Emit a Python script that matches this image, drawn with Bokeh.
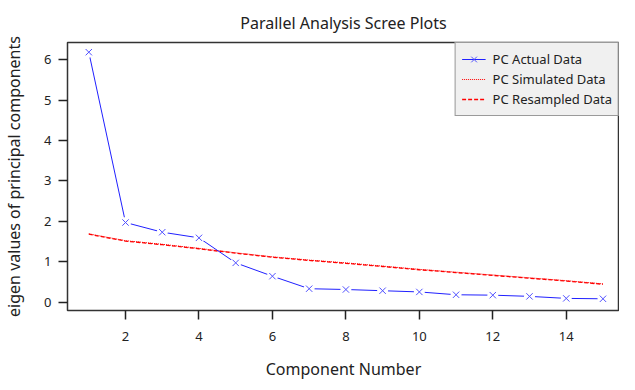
from bokeh.plotting import figure
from bokeh.models import Range1d, Legend, LegendItem, FixedTicker
from bokeh.embed import file_html
from bokeh.resources import INLINE

components = [1, 2, 3, 4, 5, 6, 7, 8, 9, 10, 11, 12, 13, 14, 15]
pc_actual = [6.19, 1.97, 1.73, 1.59, 0.97, 0.64, 0.33, 0.31, 0.28, 0.25, 0.18, 0.17, 0.14, 0.09, 0.08]
pc_simulated = [1.69, 1.52, 1.43, 1.33, 1.22, 1.12, 1.04, 0.97, 0.89, 0.81, 0.74, 0.67, 0.60, 0.53, 0.45]
pc_resampled = [1.68, 1.51, 1.42, 1.32, 1.21, 1.11, 1.03, 0.96, 0.88, 0.80, 0.73, 0.66, 0.59, 0.52, 0.44]
x_ticks = [2, 4, 6, 8, 10, 12, 14]
y_ticks = [0, 1, 2, 3, 4, 5, 6]

FONT = "Noto Sans"

p = figure(width=619, height=382, output_backend="svg", toolbar_location=None,
           x_range=Range1d(0.42, 15.45), y_range=Range1d(-0.21, 6.43),
           min_border_left=60, min_border_right=0, min_border_top=34, min_border_bottom=64)
p.title.text = "Parallel Analysis Scree Plots"
p.title.align = "center"
p.title.text_font = FONT
p.title.text_font_size = "16px"
p.title.text_font_style = "normal"
p.title.text_color = "#222222"
p.title.text_line_height = 1.0
p.title.standoff = 18

p.xgrid.visible = False
p.ygrid.visible = False
p.outline_line_color = "#333333"
p.outline_line_width = 1.5

for ax in (p.xaxis[0], p.yaxis[0]):
    ax.minor_tick_line_color = None
    ax.major_tick_out = 9
    ax.major_tick_in = 0
    ax.axis_line_color = None
    ax.major_tick_line_color = "#222222"
    ax.major_tick_line_width = 1.5
    ax.major_label_text_font = FONT
    ax.major_label_text_font_size = "13px"
    ax.major_label_text_color = "#222222"
    ax.major_label_text_line_height = 1.0
    ax.axis_label_text_font = FONT
    ax.axis_label_text_font_size = "16px"
    ax.axis_label_text_font_style = "normal"
    ax.axis_label_text_color = "#222222"
    ax.axis_label_text_line_height = 1.0

p.xaxis.ticker = FixedTicker(ticks=x_ticks)
p.yaxis.ticker = FixedTicker(ticks=y_ticks)
p.xaxis.axis_label = "Component Number"
p.yaxis.axis_label = "eigen values of principal components"
p.yaxis.major_label_orientation = "horizontal"
p.xaxis.major_label_standoff = 12
p.yaxis.major_label_standoff = 7
p.xaxis.axis_label_standoff = 14
p.yaxis.axis_label_standoff = 16

r_sim = p.line(components, pc_simulated, line_color="red", line_width=1, line_dash="1 1")
r_res = p.line(components, pc_resampled, line_color="red", line_width=1.3, line_dash="4 2")
r_act = p.line(components, pc_actual, line_color="#2020ff", line_width=1)
p.scatter(components, pc_actual, marker="circle", size=11, fill_color="white", line_color=None)
r_x = p.scatter(components, pc_actual, marker="x", size=9, line_color="#5050ff", line_width=1)

legend = Legend(items=[
    LegendItem(label="PC Actual Data", renderers=[r_act, r_x]),
    LegendItem(label="PC Simulated Data", renderers=[r_sim]),
    LegendItem(label="PC Resampled Data", renderers=[r_res]),
], location="top_right")
legend.background_fill_color = "#f0f0f0"
legend.background_fill_alpha = 1
legend.border_line_color = "#444444"
legend.border_line_width = 1.5
legend.label_text_font = FONT
legend.label_text_font_size = "13px"
legend.label_text_color = "#222222"
legend.margin = 0
legend.padding = 6
legend.spacing = 0
legend.label_height = 20
legend.glyph_height = 20
legend.glyph_width = 24
legend.label_standoff = 7
p.add_layout(legend)

open("out.html", "w").write(file_html(p, INLINE))
